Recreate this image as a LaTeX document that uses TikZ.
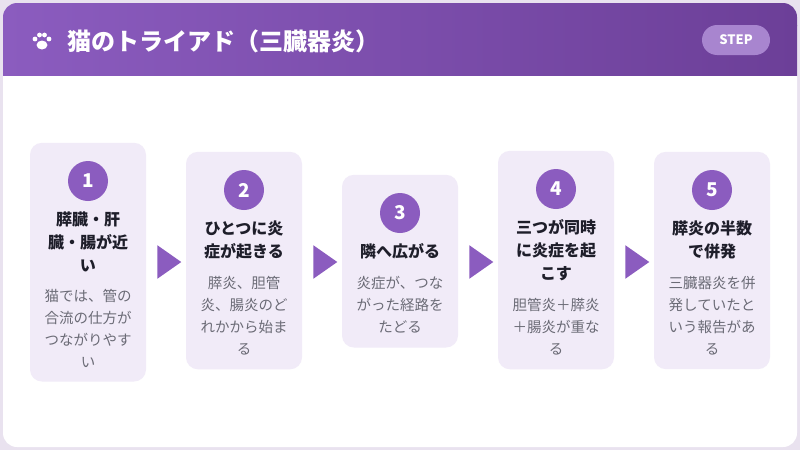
\documentclass[tikz,border=0pt]{standalone}
\usepackage{fontspec}
\setmainfont{Noto Sans CJK JP}
\usetikzlibrary{positioning,fit,backgrounds,shapes.geometric,calc}
\definecolor{purp}{HTML}{8B5CBF}
\definecolor{purpdark}{HTML}{6C3F98}
\definecolor{cardbg}{HTML}{F1EBF8}
\definecolor{bodygray}{HTML}{6B6B76}
\definecolor{headtxt}{HTML}{1E1E2A}
\tikzset{
  num/.style={circle, fill=purp, minimum size=40pt, inner sep=0pt, text=white, font=\fontsize{19pt}{19pt}\bfseries},
  ttl/.style={align=center, text=headtxt, font=\fontsize{16pt}{23pt}\bfseries, inner sep=0pt},
  txt/.style={align=center, text=bodygray, font=\fontsize{14.5pt}{22pt}\selectfont, inner sep=0pt},
  card/.style={rounded corners=12pt, fill=cardbg, inner xsep=4pt, inner ysep=18pt, minimum width=116pt},
  flowtip/.style={isosceles triangle, isosceles triangle apex angle=70, fill=purp, minimum height=24pt, inner sep=0pt}
}
\begin{document}
\begin{tikzpicture}[x=1pt,y=-1pt]
\useasboundingbox (0,0) rectangle (800,450);
% frame and header
\begin{scope}[on background layer]
\fill[purpdark!15] (0,0) rectangle (800,450);
\fill[white, rounded corners=14pt] (3,3) rectangle (797,447);
\shade[left color=purp, right color=purpdark, rounded corners=14pt] (3,3) rectangle (797,40);
\shade[left color=purp, right color=purpdark] (3,25) rectangle (797,75);
\end{scope}
% paw
\begin{scope}[shift={(42,42)}, white]
  \fill (0,3) ellipse (5.5 and 4.5);
  \fill (-7,-3) circle (2.4); \fill (-2.5,-7) circle (2.4);
  \fill (2.5,-7) circle (2.4); \fill (7,-3) circle (2.4);
\end{scope}
\node[anchor=west, text=white, font=\fontsize{24pt}{24pt}\bfseries] (title) at (64,41) {猫のトライアド（三臓器炎）};
\node[rounded corners=15pt, fill=white!25!purp, text=white, minimum width=68pt, minimum height=30pt, font=\fontsize{13pt}{13pt}\bfseries] (tag) at (736,40) {STEP};
% cards
\foreach \i/\x/\y/\head/\body in {
  1/88/181/{膵臓・肝\\臓・腸が近\\い}/{猫では、管の\\合流の仕方が\\つながりやす\\い},
  2/244/190/{ひとつに炎\\症が起きる}/{膵炎、胆管\\炎、腸炎のど\\れかから始ま\\る},
  3/400/213/{隣へ広がる}/{炎症が、つな\\がった経路を\\たどる},
  4/556/189/{三つが同時\\に炎症を起\\こす}/{胆管炎＋膵炎\\＋腸炎が重な\\る},
  5/712/190/{膵炎の半数\\で併発}/{三臓器炎を併\\発していたと\\いう報告があ\\る}}{
  \node[num] (n\i) at (\x,\y) {\i};
  \node[ttl, below=10pt of n\i] (h\i) {\head};
  \node[txt, below=17pt of h\i] (b\i) {\body};
  \coordinate (e\i) at ($(b\i.south)+(0,-4)$);
  \begin{scope}[on background layer]
    \node[card, fit=(n\i)(h\i)(e\i)] (c\i) {};
  \end{scope}
}
\foreach \a/\b in {1/2,2/3,3/4,4/5}
  \node[flowtip] (s\a) at ($(c\a.east |- 0,262)!0.5!(c\b.west |- 0,262)$) {};
\end{tikzpicture}
\end{document}
